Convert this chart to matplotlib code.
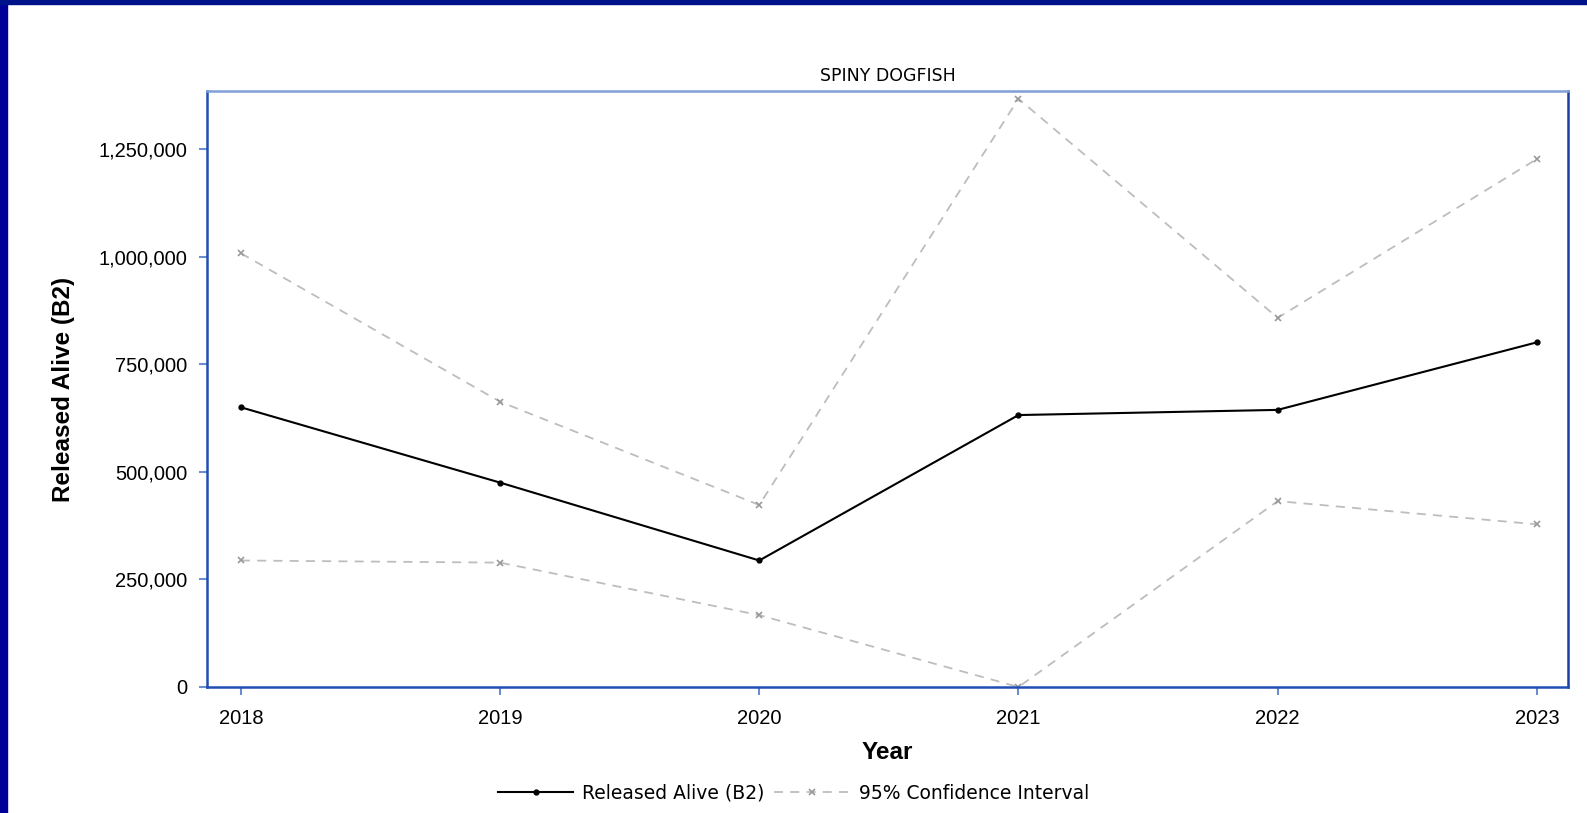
import matplotlib.pyplot as plt
from matplotlib.patches import Rectangle
from matplotlib.ticker import FuncFormatter

years = [2018, 2019, 2020, 2021, 2022, 2023]
released = [650000, 475000, 294000, 632000, 644000, 801000]
ci_upper = [1008000, 663000, 423000, 1367000, 858000, 1227000]
ci_lower = [294000, 289000, 167000, 0, 432000, 378000]

plt.rcParams['font.family'] = ['Liberation Sans', 'DejaVu Sans']

fig = plt.figure(figsize=(15.87, 8.13), dpi=100)
ax = fig.add_axes([0.1304, 0.155, 0.8576, 0.733])

# dark blue slide frame (left and top)
fig.patches.append(Rectangle((0, 0), 7 / 1587, 1, transform=fig.transFigure,
                             color='#000099', zorder=10))
fig.patches.append(Rectangle((0, 1 - 4 / 813), 1, 4 / 813, transform=fig.transFigure,
                             color='#00128a', zorder=10))

ax.plot(years, ci_upper, color='#bdbdbd', lw=1.3, ls=(0, (5, 4)),
        marker='x', ms=4, mec='#999999', mew=1.2, label='95% Confidence Interval')
ax.plot(years, ci_lower, color='#bdbdbd', lw=1.3, ls=(0, (5, 4)),
        marker='x', ms=4, mec='#999999', mew=1.2)
ax.plot(years, released, color='black', lw=1.5, marker='o', ms=3.5,
        label='Released Alive (B2)', zorder=5)

ax.set_xlim(2017.869, 2023.12)
ax.set_ylim(0, 1385000)
ax.set_xticks(years)
ax.set_yticks([0, 250000, 500000, 750000, 1000000, 1250000])
ax.yaxis.set_major_formatter(FuncFormatter(lambda v, p: f'{int(v):,}'))
ax.tick_params(labelsize=14.5, length=6, width=1.5, color='#6a8fd0')
ax.tick_params(axis='x', pad=10)
ax.tick_params(axis='y', pad=8)

for side, col in [('left', '#1f4fb4'), ('bottom', '#1f4fb4'),
                  ('top', '#7f9fd6'), ('right', '#1a3fa0')]:
    ax.spines[side].set_color(col)
    ax.spines[side].set_linewidth(1.8)

ax.set_title('SPINY DOGFISH', fontsize=12.5, family='DejaVu Sans', pad=7)
ax.set_xlabel('Year', fontsize=17.5, fontweight='bold', labelpad=9)
ax.set_ylabel('Released Alive (B2)', fontsize=17.5, fontweight='bold', labelpad=17)

h, l = ax.get_legend_handles_labels()
fig.legend(h[::-1], l[::-1], loc='center', bbox_to_anchor=(0.5, 1 - 793 / 813),
           ncol=2, frameon=False, handlelength=4.0, columnspacing=0.5,
           handletextpad=0.5, prop={'family': 'DejaVu Sans', 'size': 13.5})

fig.savefig('out.png', dpi=100)
